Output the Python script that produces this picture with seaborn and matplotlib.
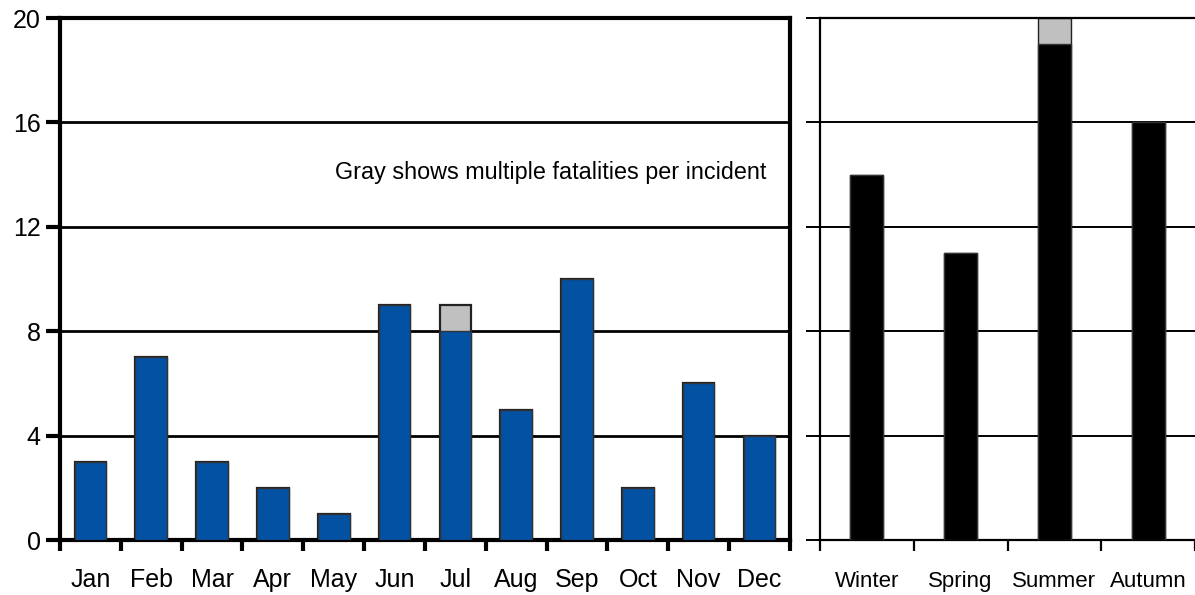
import matplotlib
matplotlib.use("Agg")
import matplotlib.pyplot as plt
import seaborn as sns
import pandas as pd
import numpy as np

months = ["Jan", "Feb", "Mar", "Apr", "May", "Jun", "Jul", "Aug", "Sep", "Oct", "Nov", "Dec"]
month_single = [3, 7, 3, 2, 1, 9, 8, 5, 10, 2, 6, 4]
month_multi = [0, 0, 0, 0, 0, 0, 1, 0, 0, 0, 0, 0]

seasons = ["Winter", "Spring", "Summer", "Autumn"]
season_single = [14, 11, 19, 16]
season_multi = [0, 0, 1, 0]

yticks = [0, 4, 8, 12, 16, 20]
note = "Gray shows multiple fatalities per incident"

sns.set_theme(style="white")
plt.rcParams["font.family"] = ["Liberation Sans", "DejaVu Sans"]
plt.rcParams["text.color"] = "black"
plt.rcParams["xtick.color"] = "black"
plt.rcParams["ytick.color"] = "black"
plt.rcParams["xtick.labelcolor"] = "black"
plt.rcParams["ytick.labelcolor"] = "black"

BLUE = "#0251A3"
GRAY = "#C0C0C0"

fig = plt.figure(figsize=(11.95, 5.95), dpi=100)
ax1 = fig.add_axes([0.0502, 0.0924, 0.6108, 0.8773])
ax2 = fig.add_axes([0.6862, 0.0924, 0.3138, 0.8773])

dm = pd.DataFrame({"cat": months,
                   "single": month_single,
                   "total": np.array(month_single) + np.array(month_multi)})
ds = pd.DataFrame({"cat": seasons,
                   "single": season_single,
                   "total": np.array(season_single) + np.array(season_multi)})

for ax, df, col, width, lw_sp, lw_grid in [
    (ax1, dm, BLUE, 0.52, 3.0, 2.0),
    (ax2, ds, "#000000", 0.35, 1.6, 1.4),
]:
    ax.set_ylim(0, 20)
    n = len(df)
    ax.set_xlim(-0.5, n - 0.5)
    for y in [4, 8, 12, 16]:
        ax.axhline(y, color="black", lw=lw_grid, zorder=0)
    sns.barplot(data=df, x="cat", y="total", color=GRAY, width=width,
                edgecolor="#222222", linewidth=1.6 if ax is ax1 else 1.0,
                saturation=1, ax=ax, zorder=2)
    sns.barplot(data=df, x="cat", y="single", color=col, width=width,
                edgecolor="#333333", linewidth=1.0,
                saturation=1, ax=ax, zorder=3)
    ax.set_xlim(-0.5, n - 0.5)
    ax.set_ylim(0, 20)
    ax.set_xlabel("")
    ax.set_ylabel("")
    for s in ax.spines.values():
        s.set_color("black")
        s.set_linewidth(lw_sp)
        s.set_visible(True)
    ax.set_xticks(np.arange(n))
    ax.set_xticklabels(df["cat"], fontsize=18 if ax is ax1 else 16)
    ax.tick_params(axis="x", which="major", length=0, pad=20 if ax is ax1 else 22)
    ax.set_xticks(np.arange(n + 1) - 0.5, minor=True)
    ax.tick_params(axis="x", which="minor", bottom=True, length=8,
                   width=lw_sp, color="black", direction="out")
    ax.set_yticks(yticks)

ax1.set_yticklabels([str(v) for v in yticks], fontsize=18)
ax1.tick_params(axis="y", left=True, length=10, width=3, color="black", pad=4)
ax2.set_yticklabels([])
ax2.tick_params(axis="y", left=True, length=10, width=1.4, color="black")
ax2.spines["right"].set_visible(False)

ax1.text(0.968, 0.705, note, transform=ax1.transAxes, ha="right", va="center",
         fontsize=16.8, color="black")

fig.savefig("out.png", dpi=100)
